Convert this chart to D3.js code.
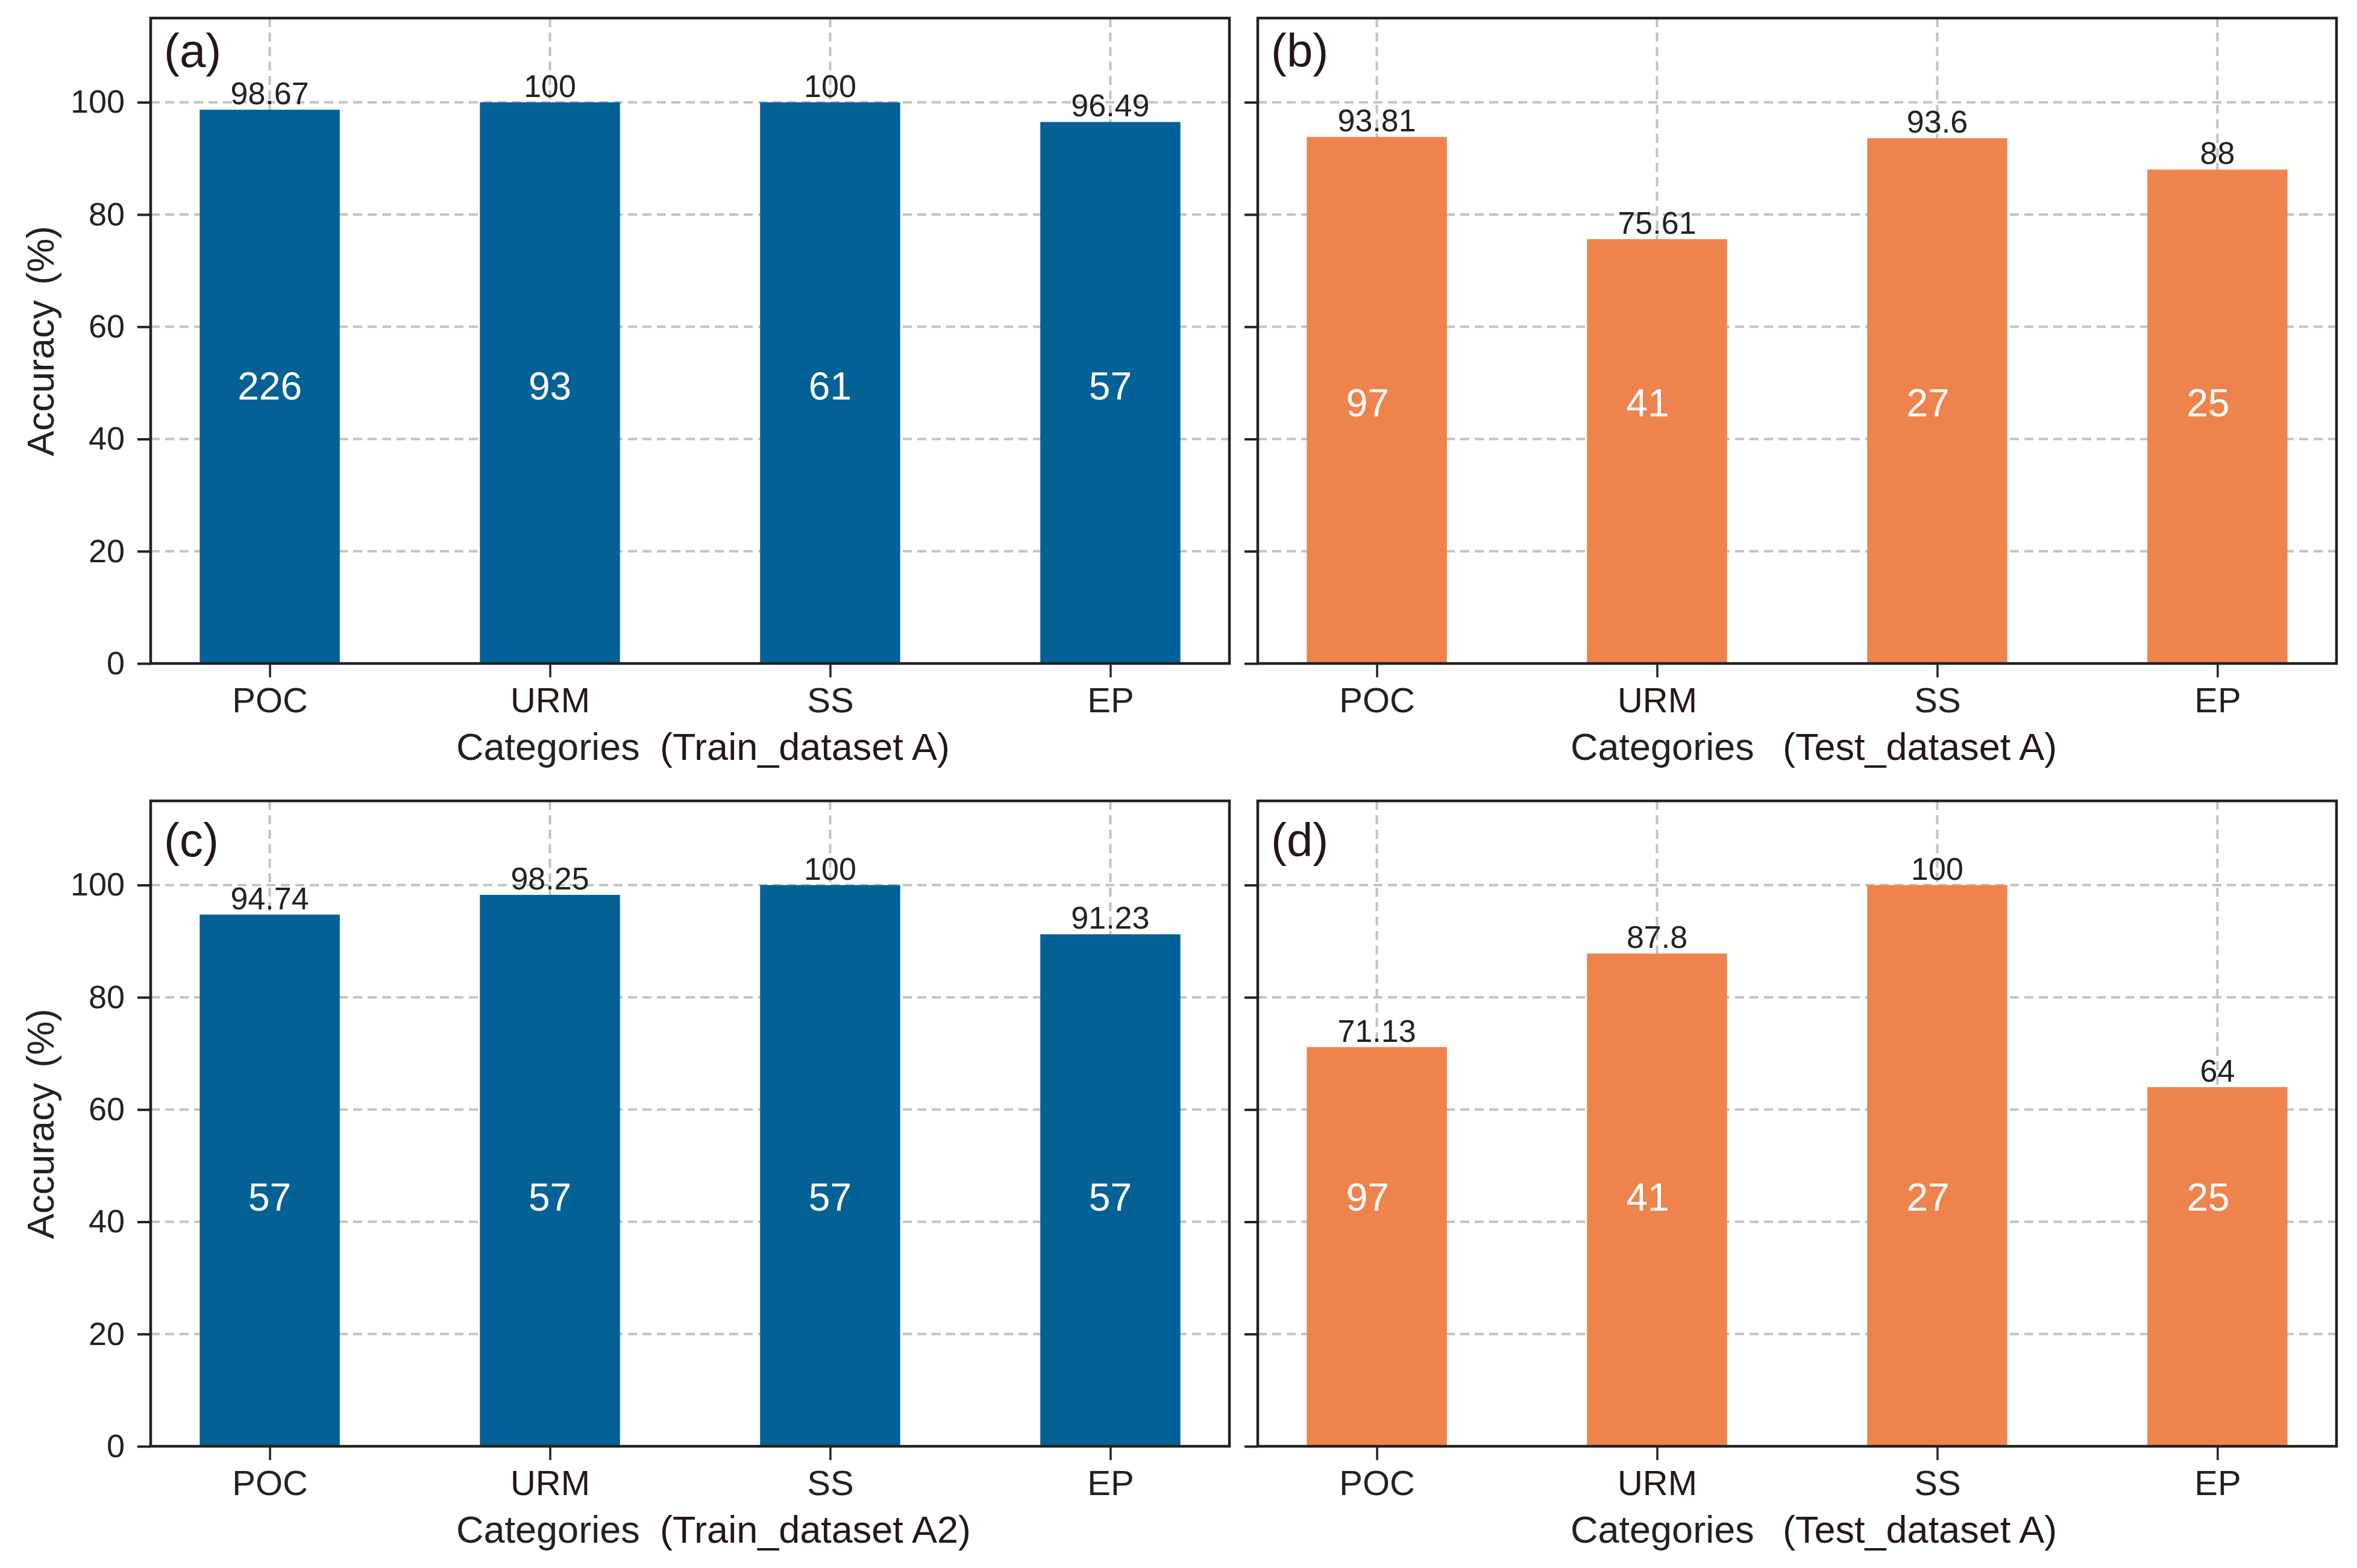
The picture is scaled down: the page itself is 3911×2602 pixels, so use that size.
<!DOCTYPE html>
<html>
<head>
<meta charset="utf-8">
<script src="https://cdn.jsdelivr.net/npm/d3@7"></script>
<style>
  body { margin: 0; background: #fff; }
  text { font-family: "Liberation Sans", Arial, "Noto Sans CJK SC", sans-serif; }
</style>
</head>
<body>
<div class="container"></div>
<script>
// data
const categories = ['POC', 'URM', 'SS', 'EP'];
const accTrainA  = [98.67, 100, 100, 96.49];
const accTestA   = [93.81, 75.61, 93.6, 88];
const accTrainA2 = [94.74, 98.25, 100, 91.23];
const accTestA2  = [71.13, 87.8, 100, 64];
const countTrainA  = [226, 93, 61, 57];
const countTestA   = [97, 41, 27, 25];
const countTrainA2 = [57, 57, 57, 57];
const countTestA2  = [97, 41, 27, 25];
const yTicks = [0, 20, 40, 60, 80, 100];
const panelTags = ['(a)', '(b)', '(c)', '(d)'];
const datasetNames = ['(Train_dataset A)', '(Test_dataset A)', '(Train_dataset A2)', '(Test_dataset A)'];
// height (in % units) where the sample counts sit
const countLevels = [47, 44, 42, 42];

const blue = '#036196';
const orange = '#ef834d';
const ink = '#222222';
const ink2 = '#231815';

const W = 1790, H = 1071;

const panels = [
  { left: 250,  top: 30,   acc: accTrainA,  count: countTrainA,  color: blue,   yLabels: true,  dx: 0,      tagY: 81, catX: 507, nameX: 845 },
  { left: 2087, top: 30,   acc: accTestA,   count: countTestA,   color: orange, yLabels: false, dx: -0.033, tagY: 81, catX: 519, nameX: 871 },
  { left: 250,  top: 1329, acc: accTrainA2, count: countTrainA2, color: blue,   yLabels: true,  dx: 0,      tagY: 92, catX: 507, nameX: 845 },
  { left: 2087, top: 1329, acc: accTestA2,  count: countTestA2,  color: orange, yLabels: false, dx: -0.033, tagY: 92, catX: 519, nameX: 871 }
];

const svg = d3.select('.container')
  .append('svg')
  .attr('width', 3911)
  .attr('height', 2602)
  .style('background', '#fff');

const x = d3.scaleLinear().domain([-0.425, 3.425]).range([0, W]);
const y = d3.scaleLinear().domain([0, 115]).range([H, 0]);
const barW = x(0.25) - x(-0.25);

panels.forEach((p, k) => {
  const g = svg.append('g').attr('transform', `translate(${p.left},${p.top})`);

  // grid
  g.append('g').selectAll('line')
    .data(yTicks)
    .enter()
    .append('line')
    .attr('x1', 0).attr('x2', W)
    .attr('y1', d => y(d)).attr('y2', d => y(d))
    .attr('stroke', '#c2c2c2').attr('stroke-width', 4)
    .attr('stroke-dasharray', '15,9');
  g.append('g').selectAll('line')
    .data(categories.map((c, i) => i))
    .enter()
    .append('line')
    .attr('x1', d => x(d)).attr('x2', d => x(d))
    .attr('y1', 0).attr('y2', H)
    .attr('stroke', '#c2c2c2').attr('stroke-width', 4)
    .attr('stroke-dasharray', '15,9');

  // bars
  g.append('g').selectAll('rect')
    .data(p.acc)
    .enter()
    .append('rect')
    .attr('x', (d, i) => x(i) - barW / 2)
    .attr('y', d => y(d))
    .attr('width', barW)
    .attr('height', d => H - y(d))
    .attr('fill', p.color);

  // y axis
  const yAxis = d3.axisLeft(y)
    .tickValues(yTicks)
    .tickSize(22)
    .tickPadding(21)
    .tickFormat(p.yLabels ? d3.format('d') : '');
  const ya = g.append('g').call(yAxis);
  ya.select('.domain').remove();
  ya.selectAll('line').attr('stroke', ink).attr('stroke-width', 4);
  ya.selectAll('text').attr('font-size', 54).attr('fill', ink)
    .attr('font-family', '"Liberation Sans", Arial, sans-serif');

  // x axis
  const xAxis = d3.axisBottom(x)
    .tickValues([0, 1, 2, 3])
    .tickSize(23)
    .tickPadding(17)
    .tickFormat(i => categories[i]);
  const xa = g.append('g').attr('transform', `translate(0,${H})`).call(xAxis);
  xa.select('.domain').remove();
  xa.selectAll('line').attr('stroke', ink).attr('stroke-width', 3.5);
  xa.selectAll('text').attr('font-size', 58)
    .attr('fill', (d) => d === 1 ? ink2 : ink)
    .attr('font-family', '"Liberation Sans", Arial, sans-serif');

  // frame
  g.append('rect')
    .attr('x', 0).attr('y', 0).attr('width', W).attr('height', H)
    .attr('fill', 'none').attr('stroke', ink).attr('stroke-width', 4.5);

  // accuracy labels on top of bars
  g.append('g').selectAll('text')
    .data(p.acc)
    .enter()
    .append('text')
    .attr('x', (d, i) => x(i))
    .attr('y', d => y(d) - 9)
    .attr('text-anchor', 'middle')
    .attr('font-size', 52)
    .attr('fill', ink)
    .text(d => d);

  // sample counts inside bars
  g.append('g').selectAll('text')
    .data(p.count)
    .enter()
    .append('text')
    .attr('x', (d, i) => x(i + p.dx))
    .attr('y', y(countLevels[k]))
    .attr('text-anchor', 'middle')
    .attr('font-size', 64)
    .attr('fill', '#fff')
    .text(d => d);

  // panel tag
  g.append('text')
    .attr('x', 22)
    .attr('y', p.tagY)
    .attr('font-size', 78)
    .attr('fill', ink2)
    .text(panelTags[k]);

  // x label
  g.append('text')
    .attr('x', p.catX)
    .attr('y', H + 160)
    .attr('font-size', 63)
    .attr('fill', ink)
    .text('Categories');
  g.append('text')
    .attr('x', p.nameX)
    .attr('y', H + 160)
    .attr('font-size', 63)
    .attr('fill', ink2)
    .text(datasetNames[k]);

  // y label
  if (p.yLabels) {
    g.append('text')
      .attr('transform', `translate(${89 - p.left},${H - 344}) rotate(-90)`)
      .attr('text-anchor', 'start')
      .attr('font-size', 63)
      .attr('fill', ink)
      .text('Accuracy\u2009\u2009(%)');
  }
});
</script>
</body>
</html>
